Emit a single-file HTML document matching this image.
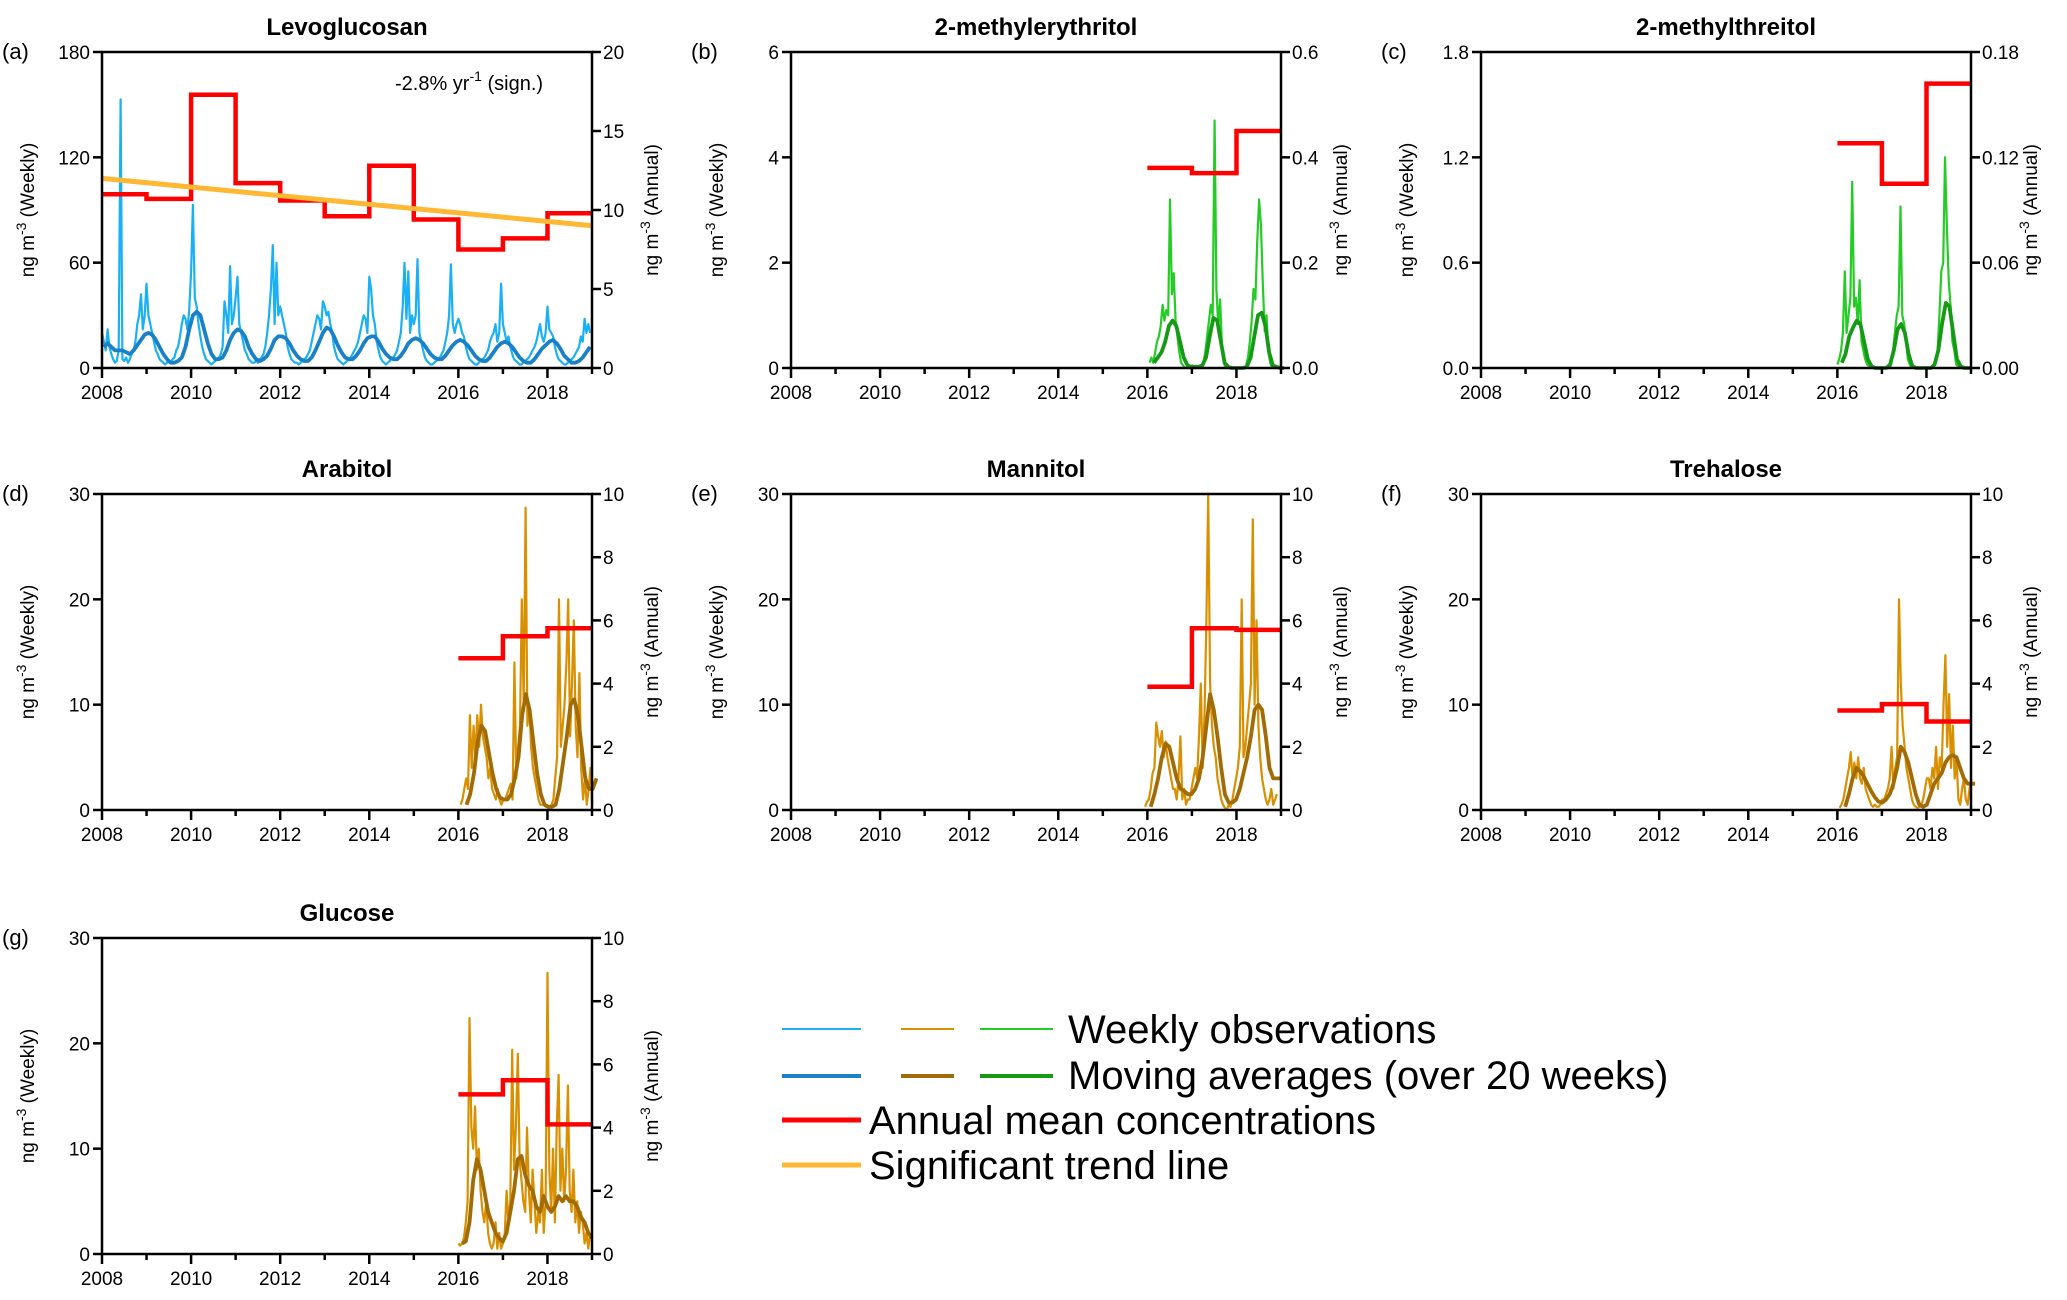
<!DOCTYPE html>
<html><head><meta charset="utf-8">
<style>
html,body{margin:0;padding:0;background:#fff;}
svg{display:block;font-family:"Liberation Sans",Arial,sans-serif;}
</style></head>
<body>
<svg id="fig" width="2067" height="1300" viewBox="0 0 2067 1300" xmlns="http://www.w3.org/2000/svg"></svg>
<script>
// ---------- DATA ----------
const xTickYears = [2008, 2010, 2012, 2014, 2016, 2018];
const annualYears = [2008,2009,2010,2011,2012,2013,2014,2015,2016,2017,2018];
const levoWeekly = [
20,15,10,22,12,8,5,3,4,10,153,5,4,6,3,5,8,10,15,25,30,42,22,30,
48,30,25,20,15,10,8,5,4,3,2,3,4,3,5,6,10,12,18,25,30,28,22,33,
55,93,40,35,25,18,12,8,5,4,3,2,3,4,5,6,8,12,38,30,20,58,25,30,
40,52,25,20,15,10,8,5,4,3,3,4,3,5,6,8,12,20,30,45,70,25,60,30,
35,30,25,20,12,8,5,4,3,3,2,3,4,5,6,8,10,15,20,25,30,28,22,38,
35,30,32,25,20,12,8,5,4,3,2,3,4,5,6,8,10,12,15,20,25,30,28,20,
52,45,30,25,15,10,6,4,3,2,3,4,5,6,8,10,15,20,35,60,28,55,20,30,
25,30,62,20,15,10,6,4,3,2,2,3,4,5,6,8,10,15,20,30,59,25,20,25,
28,25,20,18,12,8,5,4,3,2,2,3,4,5,6,8,10,15,18,20,25,15,20,48,
25,20,15,18,12,8,5,4,3,2,2,3,4,5,6,8,10,12,15,20,25,18,15,20,
35,22,20,18,12,8,5,4,3,2,2,3,4,5,6,8,10,12,18,15,28,20,25,20];
const levoMA = [
12,14,12,10,10,10,9,8,10,13,16,19,
20,19,16,12,8,5,3,3,4,6,12,22,
30,32,30,22,14,8,5,5,6,10,16,20,
22,21,18,12,8,5,4,5,7,11,16,18,
18,17,14,10,7,5,4,4,6,10,15,20,
23,22,18,13,9,6,5,5,7,10,14,17,
18,18,15,11,8,6,5,5,7,10,14,16,
17,16,14,11,8,6,5,5,7,10,13,15,
16,15,13,10,7,5,4,4,6,9,12,14,
15,14,12,9,6,4,3,3,5,8,11,13,
15,16,14,11,7,5,3,3,4,6,9,12];
const levoAnnual = [11,10.7,17.3,11.7,10.6,9.6,12.8,9.4,7.5,8.2,9.8];
const levoTrend = [12.0, 9.0];

const shortYears = [2016,2017,2018];
const meWeekly = [0.1,0.2,0.1,0.3,0.5,0.6,0.8,1.2,0.9,1.1,1.0,3.2,1.4,1.8,0.9,0.6,0.3,0.1,0.05,0,0,0,0,0.05,
0,0,0,0,0.05,0.1,0.3,0.6,0.9,1.2,1.0,4.7,1.5,0.8,1.3,0.4,0.1,0,0,0,0,0,0,0,
0,0,0,0,0.05,0.2,0.5,0.9,1.5,1.3,2.4,3.2,2.7,1.6,0.7,1.0,0.3,0.1,0,0,0,0,0,0];
const meMA = [0.1,0.2,0.3,0.5,0.8,0.9,0.8,0.5,0.2,0.05,0.02,0.02, 0.02,0.05,0.2,0.6,0.95,0.9,0.5,0.1,0.02,0,0,0, 0,0.02,0.2,0.6,1.0,1.05,0.8,0.3,0.05,0.02,0,0];
const meAnnual = [0.38,0.37,0.45];

const mtWeekly = [0.02,0.05,0.1,0.2,0.55,0.2,0.3,0.4,1.06,0.35,0.4,0.25,0.5,0.15,0.1,0.05,0.02,0.01,0,0,0,0,0,0,
0,0,0,0,0,0.02,0.1,0.2,0.3,0.35,0.92,0.3,0.25,0.15,0.05,0.02,0,0,0,0,0,0,0,0,
0,0,0,0,0.02,0.05,0.1,0.3,0.55,0.6,1.2,0.8,0.5,0.35,0.15,0.1,0.02,0.01,0,0,0,0,0,0];
const mtMA = [0.03,0.08,0.18,0.23,0.27,0.25,0.15,0.05,0.01,0,0,0, 0,0.02,0.1,0.22,0.25,0.2,0.08,0.01,0,0,0,0, 0,0.02,0.1,0.25,0.37,0.35,0.2,0.05,0.01,0,0,0];
const mtAnnual = [0.128,0.105,0.162];

const arWeekly = [0.5,1,2,3,2,9,4,8,5,9,6,10,7,6,5,3,4,2,1.5,1,2,1,0.5,1,
1,1.5,2,2.5,1,14,3,6,8,20,10,28.7,8,10,6,4,3,2,1,0.5,0.5,0.5,0.3,0.3,
0.3,0.5,1,3,5,20,6,8,10,14,20,7,12,18,8,5,13,4,1,3,0.5,2,4,0.5];
const arMA = [0.5,1.5,3.5,6.5,8,7.5,5.5,3.5,2,1.2,1,1, 1.5,3,5,9,11,9.5,6.5,3.5,1.5,0.5,0.3,0.3, 0.5,2,4.5,7,10,10.5,9,6,3,2,2,3];
const arAnnual = [4.8,5.5,5.75];

const maWeekly = [0.3,0.8,1,2,3.5,4,8.3,7,6,7.5,5,6.5,5,4,3,2,2,1,3,7,1,2,0.5,1,
1,2,3,4,3,7,12,4,9,18,30,12,8,6,5,3,2,1,0.5,0.2,0,0.5,0.3,1,
2,3,4,6,20,5,6,8,10,12,27.6,10,18,8,5,3,2,1,0.5,1,2,0.5,1,1.5];
const maMA = [0.3,1.5,3,5,6.3,6,4.5,3,2,1.8,1.5,1.5, 2,3,5,8,11,9.5,7,4,1.5,0.7,0.7,1, 2,3.5,5,7,9.5,10,9.5,7,4,3,3,3];
const maAnnual = [3.9,5.75,5.7];

const trWeekly = [0.2,0.5,1,2,3,4,5.5,3,4.5,3,5,3,2.5,4,2,1.5,1,0.5,0.3,0.5,0.3,0.3,0.5,1,
1,1.5,2,3,6,2,4,5,20,12,8,6,4,3,2,1,0.5,0.3,0.2,0.3,0.5,1,2,3,
3,2,4,3,6,2,5,4,10,14.7,6,11,4,8,3,5,1,0.5,2,3,1,0.5,2,3];
const trMA = [0.3,1.5,3,4,3.7,3.2,2.5,1.8,1.2,0.8,0.7,1, 1.5,2.5,4,6,5.5,4.5,3,1.5,0.5,0.3,0.5,1.5, 2.5,3,3.5,4.5,5,5.2,5,4,3,2.5,2.5,2.5];
const trAnnual = [3.15,3.35,2.8];

const glWeekly = [1,0.8,1,1.5,3,5,22.4,12,10,14,8,10,6,4,3,5,2,1,0.5,1,3,0.5,2,0.5,
1,2,6,3,5,19.4,8,12,19,9,7,5,4,12,6,3,8,5,2,4,3,8,2,5,
26.7,8,4,10,3,12,17,6,10,5,8,16,6,4,8,3,5,2,4,3,1,2,0.5,2];
const glMA = [1,1.2,3,7,9,8,6,4,3,2,1.5,1.2, 2,4,6,9,9.3,7.5,6.5,6,4.5,4,5.5,4.5, 4,4.5,5.5,5,5.5,5,5,4.5,3.5,3,2,1.5];
const glAnnual = [5.05,5.5,4.1];

// ---------- DRAW ----------
const NS = "http://www.w3.org/2000/svg";
const svg = document.getElementById('fig');
function mk(tag, attrs, parent, text){
  const e = document.createElementNS(NS, tag);
  for (const k in attrs) e.setAttribute(k, attrs[k]);
  if (text !== undefined) e.textContent = text;
  (parent || svg).appendChild(e);
  return e;
}
const BLUE = ['#1ab0f5', '#1a80c8'];
const ORANGE = ['#d99000', '#a36b05'];
const GREEN = ['#25cc25', '#169a16'];
const PW = 490, PH = 316;

function panel(o){
  const g = mk('g', {});
  
  
  const L=o.x, R=o.x+PW, T=o.y, B=o.y+PH;
  const xs = y => L + (y-2008)/11*(R-L);
  const yl = v => B - v/o.lmax*(B-T);
  const yr = v => B - v/o.rmax*(B-T);
  let pts = o.weekly.map((v,i)=> xs(o.start + i/24).toFixed(1)+','+yl(v).toFixed(1)).join(' ');
  const w = mk('polyline',{points:pts, fill:'none', stroke:o.col[0], 'stroke-width':2.2, 'stroke-linejoin':'round'}, g);
  
  
  pts = o.ma.map((v,i)=> xs(o.start + (i+o.maOff)/12).toFixed(1)+','+yl(v).toFixed(1)).join(' ');
  const m = mk('polyline',{points:pts, fill:'none', stroke:o.col[1], 'stroke-width':3.8, 'stroke-linejoin':'round'}, g);
  
  
  let d = '';
  o.annual.forEach((v,i)=>{ const y0=o.years[i]; d += (i===0?'M':'L')+xs(y0).toFixed(1)+','+yr(v).toFixed(1)+' L'+xs(y0+1).toFixed(1)+','+yr(v).toFixed(1)+' '; });
  const a = mk('path',{d:d, fill:'none', stroke:'#ff0000', 'stroke-width':4.5}, g);
  
  
  if (o.trend){
    const t = mk('line',{x1:xs(2008),y1:yr(o.trend[0]),x2:xs(2019),y2:yr(o.trend[1]),stroke:'#ffb833','stroke-width':5}, g);
    
    
  }
  const fr = mk('rect',{x:L,y:T,width:R-L,height:B-T,fill:'none',stroke:'#000','stroke-width':2.5}, g);
  
  
  for (let yv=2008; yv<=2019; yv++){
    const major = (yv%2===0);
    mk('line',{x1:xs(yv),y1:B,x2:xs(yv),y2:B+(major?10:6),stroke:'#000','stroke-width':2.5}, g);
  }
  xTickYears.forEach(yv=>{
    const t = mk('text',{x:xs(yv),y:B+31,'font-size':19,'text-anchor':'middle'}, g, String(yv));
    
    
  });
  o.lticks.forEach(v=>{
    mk('line',{x1:L-9,y1:yl(v),x2:L,y2:yl(v),stroke:'#000','stroke-width':2.5}, g);
    const t = mk('text',{x:L-12,y:yl(v)+7,'font-size':19,'text-anchor':'end'}, g, o.lfmt(v));
    
    
  });
  o.rticks.forEach(v=>{
    mk('line',{x1:R,y1:yr(v),x2:R+9,y2:yr(v),stroke:'#000','stroke-width':2.5}, g);
    const t = mk('text',{x:R+11,y:yr(v)+7,'font-size':19,'text-anchor':'start'}, g, o.rfmt(v));
    
    
  });
  const ti = mk('text',{x:(L+R)/2,y:T-17,'font-size':24,'font-weight':'bold','text-anchor':'middle'}, g, o.title);
  
  
  const lt = mk('text',{x:L-100,y:T+7,'font-size':22}, g, o.letter);
  
  
  const yl1 = mk('text',{transform:`translate(${L-68},${(T+B)/2}) rotate(-90)`,'font-size':19,'text-anchor':'middle'}, g);
  yl1.innerHTML = 'ng m<tspan dy="-8" font-size="14">-3</tspan><tspan dy="8"> (Weekly)</tspan>';
  
  
  const yl2 = mk('text',{transform:`translate(${R+66},${(T+B)/2}) rotate(-90)`,'font-size':19,'text-anchor':'middle'}, g);
  yl2.innerHTML = 'ng m<tspan dy="-8" font-size="14">-3</tspan><tspan dy="8"> (Annual)</tspan>';
  
  
}
const i0 = v=>String(v), f1 = v=>v.toFixed(1), f2=v=>v.toFixed(2);
const cols=[102,791,1481], rows=[52,494,938];
panel({name:'levoglucosan',title:'Levoglucosan',letter:'(a)',x:cols[0],y:rows[0],lmax:180,rmax:20,lticks:[0,60,120,180],rticks:[0,5,10,15,20],lfmt:i0,rfmt:i0,
  weekly:levoWeekly,ma:levoMA,annual:levoAnnual,years:annualYears,start:2008,maOff:0.5,col:BLUE,trend:levoTrend});
panel({name:'methylerythritol',title:'2-methylerythritol',letter:'(b)',x:cols[1],y:rows[0],lmax:6,rmax:0.6,lticks:[0,2,4,6],rticks:[0,0.2,0.4,0.6],lfmt:i0,rfmt:f1,
  weekly:meWeekly,ma:meMA,annual:meAnnual,years:shortYears,start:2016.05,maOff:1.2,col:GREEN});
panel({name:'methylthreitol',title:'2-methylthreitol',letter:'(c)',x:cols[2],y:rows[0],lmax:1.8,rmax:0.18,lticks:[0,0.6,1.2,1.8],rticks:[0,0.06,0.12,0.18],lfmt:f1,rfmt:f2,
  weekly:mtWeekly,ma:mtMA,annual:mtAnnual,years:shortYears,start:2016.0,maOff:1.2,col:GREEN});
panel({name:'arabitol',title:'Arabitol',letter:'(d)',x:cols[0],y:rows[1],lmax:30,rmax:10,lticks:[0,10,20,30],rticks:[0,2,4,6,8,10],lfmt:i0,rfmt:i0,
  weekly:arWeekly,ma:arMA,annual:arAnnual,years:shortYears,start:2016.05,maOff:1.6,col:ORANGE});
panel({name:'mannitol',title:'Mannitol',letter:'(e)',x:cols[1],y:rows[1],lmax:30,rmax:10,lticks:[0,10,20,30],rticks:[0,2,4,6,8,10],lfmt:i0,rfmt:i0,
  weekly:maWeekly,ma:maMA,annual:maAnnual,years:shortYears,start:2015.95,maOff:1.5,col:ORANGE});
panel({name:'trehalose',title:'Trehalose',letter:'(f)',x:cols[2],y:rows[1],lmax:30,rmax:10,lticks:[0,10,20,30],rticks:[0,2,4,6,8,10],lfmt:i0,rfmt:i0,
  weekly:trWeekly,ma:trMA,annual:trAnnual,years:shortYears,start:2016.05,maOff:1.5,col:ORANGE});
panel({name:'glucose',title:'Glucose',letter:'(g)',x:cols[0],y:rows[2],lmax:30,rmax:10,lticks:[0,10,20,30],rticks:[0,2,4,6,8,10],lfmt:i0,rfmt:i0,
  weekly:glWeekly,ma:glMA,annual:glAnnual,years:shortYears,start:2016.0,maOff:1.0,col:ORANGE});

const ann = mk('text',{x:395,y:90,'font-size':20});
ann.innerHTML = '-2.8%  yr<tspan dy="-9" font-size="14">-1</tspan><tspan dy="9"> (sign.)</tspan>';



const lg = mk('g',{});


function seg(x1,x2,y,c,w){ mk('line',{x1:x1,y1:y,x2:x2,y2:y,stroke:c,'stroke-width':w},lg); }
seg(782,861,1029,BLUE[0],2); seg(901,954,1029,ORANGE[0],2); seg(980,1053,1029,GREEN[0],2);
seg(782,861,1076,BLUE[1],4); seg(901,954,1076,ORANGE[1],4); seg(980,1053,1076,GREEN[1],4);
seg(782,861,1120,'#ff0000',5); seg(782,861,1165,'#ffb833',5);
const lt1 = mk('text',{x:1068,y:1043,'font-size':40},lg,'Weekly observations');


const lt2 = mk('text',{x:1068,y:1089,'font-size':40},lg,'Moving averages (over 20 weeks)');


const lt3 = mk('text',{x:869,y:1134,'font-size':40},lg,'Annual mean concentrations');


const lt4 = mk('text',{x:869,y:1179,'font-size':40},lg,'Significant trend line');


</script>
</body></html>
